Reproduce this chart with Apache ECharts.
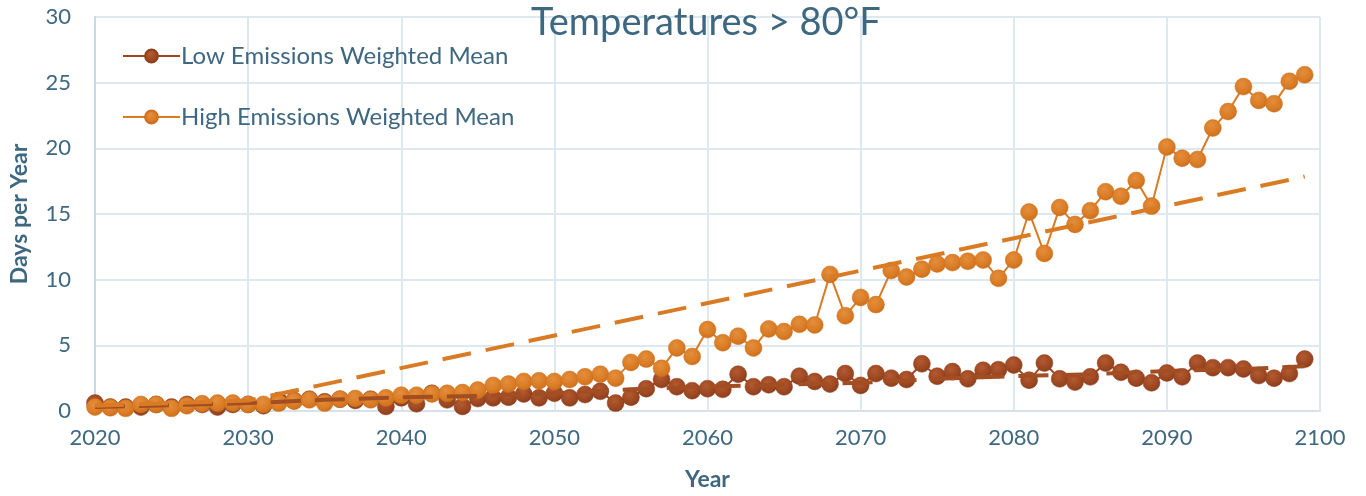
<!DOCTYPE html>
<html>
<head>
<meta charset="utf-8">
<script src="https://cdn.jsdelivr.net/npm/echarts@6/dist/echarts.min.js"></script>
<style>
html,body{margin:0;padding:0;background:#fff;}
#chart{width:1366px;height:496px;}
</style>
</head>
<body>
<div id="chart"></div>
<script>
const years = [];
for (let y = 2020; y <= 2099; y++) years.push(y);

const lowValues = [
  0.6, 0.3, 0.3, 0.3, 0.5, 0.3, 0.5, 0.5, 0.3, 0.5,
  0.5, 0.4, 0.8, 0.8, 0.9, 0.7, 0.9, 0.8, 0.9, 0.35,
  1.0, 0.55, 1.35, 0.85, 0.35, 0.95, 1.0, 1.05, 1.3, 1.0,
  1.35, 1.0, 1.25, 1.5, 0.6, 1.05, 1.7, 2.4, 1.85, 1.55,
  1.7, 1.65, 2.8, 1.85, 2.0, 1.85, 2.65, 2.25, 2.05, 2.85,
  1.95, 2.85, 2.5, 2.4, 3.6, 2.65, 3.0, 2.45, 3.1, 3.15,
  3.5, 2.35, 3.65, 2.45, 2.2, 2.6, 3.65, 2.95, 2.5, 2.15,
  2.9, 2.6, 3.65, 3.3, 3.3, 3.2, 2.7, 2.5, 2.85, 3.95
];

const highValues = [
  0.3, 0.25, 0.2, 0.5, 0.5, 0.2, 0.4, 0.55, 0.6, 0.6,
  0.5, 0.5, 0.6, 0.75, 0.85, 0.6, 0.9, 0.95, 0.85, 1.0,
  1.2, 1.2, 1.3, 1.35, 1.4, 1.6, 1.95, 2.05, 2.25, 2.3,
  2.25, 2.4, 2.6, 2.8, 2.5, 3.7, 3.95, 3.25, 4.8, 4.15,
  6.2, 5.2, 5.7, 4.8, 6.25, 6.05, 6.6, 6.55, 10.4, 7.25,
  8.65, 8.1, 10.7, 10.2, 10.8, 11.2, 11.3, 11.4, 11.5, 10.1,
  11.5, 15.15, 12.0, 15.5, 14.2, 15.25, 16.7, 16.35, 17.55, 15.6,
  20.1, 19.25, 19.15, 21.55, 22.8, 24.7, 23.65, 23.4, 25.1, 25.6
];

// Trend lines (key points)
const lowTrendYears  = [2020, 2025, 2030, 2035, 2040, 2045, 2050, 2055, 2060, 2065, 2070, 2075, 2080, 2085, 2090, 2095, 2099];
const lowTrendValues = [0.3, 0.45, 0.6, 0.85, 1.05, 1.15, 1.35, 1.65, 1.85, 2.0, 2.15, 2.45, 2.65, 2.8, 3.05, 3.2, 3.4];
const highTrendYears  = [2020, 2030, 2099];
const highTrendValues = [0.4, 0.8, 17.85];

const yTicks = [0, 5, 10, 15, 20, 25, 30];
const xTicks = [2020, 2030, 2040, 2050, 2060, 2070, 2080, 2090, 2100];

const TEXT = '#3e6780';
const ORANGE = '#d97b24';
const BROWN = '#9c4722';
const FONT = 'Lato';

function pairs(xs, vs) { return xs.map((x, i) => [x, vs[i]]); }
function ball(base, light, dark) {
  return {
    type: 'radial', x: 0.42, y: 0.35, r: 0.75,
    colorStops: [
      { offset: 0, color: light },
      { offset: 0.6, color: base },
      { offset: 1, color: dark }
    ]
  };
}

const chart = echarts.init(document.getElementById('chart'), null, { renderer: 'canvas' });
chart.setOption({
  animation: false,
  backgroundColor: '#fff',
  textStyle: { fontFamily: FONT },
  title: {
    text: 'Temperatures > 80°F',
    left: 526,
    top: -1,
    textStyle: { fontFamily: FONT, fontSize: 38, fontWeight: 'normal', color: TEXT }
  },
  legend: {
    data: ['Low Emissions Weighted Mean', 'High Emissions Weighted Mean'],
    orient: 'vertical',
    left: 117,
    top: 39,
    itemGap: 37,
    itemWidth: 57,
    itemHeight: 16,
    textStyle: { fontFamily: FONT, fontSize: 24, color: TEXT, padding: [0, 0, 0, -4] }
  },
  grid: { left: 86, right: 46, top: 17, bottom: 83, containLabel: false },
  xAxis: {
    type: 'value',
    min: xTicks[0],
    max: xTicks[xTicks.length - 1],
    interval: 10,
    name: 'Year',
    nameLocation: 'middle',
    nameGap: 57,
    nameTextStyle: { fontFamily: FONT, fontSize: 23, fontWeight: 'bold', color: TEXT },
    axisLine: { show: true, lineStyle: { color: '#d5e2ec', width: 2 } },
    axisTick: { show: false },
    axisLabel: { fontFamily: FONT, fontSize: 22, color: TEXT, margin: 16, formatter: v => String(v) },
    splitLine: { show: true, lineStyle: { color: '#dde8f0', width: 2 } }
  },
  yAxis: {
    type: 'value',
    min: yTicks[0],
    max: yTicks[yTicks.length - 1],
    interval: 5,
    name: 'Days per Year',
    nameLocation: 'middle',
    nameGap: 64,
    nameTextStyle: { fontFamily: FONT, fontSize: 23, fontWeight: 'bold', color: TEXT },
    axisLine: { show: true, lineStyle: { color: '#c5d9e8', width: 2 } },
    axisTick: { show: false },
    axisLabel: { fontFamily: FONT, fontSize: 22, color: TEXT, margin: 24 },
    splitLine: { show: true, lineStyle: { color: '#dde8f0', width: 2 } }
  },
  series: [
    {
      name: 'Low Emissions Weighted Mean',
      type: 'line',
      data: pairs(years, lowValues),
      symbol: 'circle',
      symbolSize: 17,
      showAllSymbol: true,
      color: BROWN,
      lineStyle: { color: BROWN, width: 2 },
      itemStyle: { color: ball(BROWN, '#b35a30', '#84391a'), borderColor: '#8e401d', borderWidth: 0.5 },
      z: 3
    },
    {
      name: 'High Emissions Weighted Mean',
      type: 'line',
      data: pairs(years, highValues),
      symbol: 'circle',
      symbolSize: 17,
      showAllSymbol: true,
      color: ORANGE,
      lineStyle: { color: ORANGE, width: 2 },
      itemStyle: { color: ball(ORANGE, '#e48e3c', '#c66a18'), borderColor: '#cd7120', borderWidth: 0.5 },
      z: 4
    },
    {
      name: 'Low trend',
      type: 'line',
      data: pairs(lowTrendYears, lowTrendValues),
      symbol: 'none',
      lineStyle: { color: '#a34d22', width: 4, type: [30, 14], cap: 'butt' },
      z: 5,
      silent: true
    },
    {
      name: 'High trend',
      type: 'line',
      data: pairs(highTrendYears, highTrendValues),
      symbol: 'none',
      lineStyle: { color: ORANGE, width: 4, type: [29, 15], cap: 'butt' },
      z: 5,
      silent: true
    }
  ]
});
</script>
</body>
</html>
